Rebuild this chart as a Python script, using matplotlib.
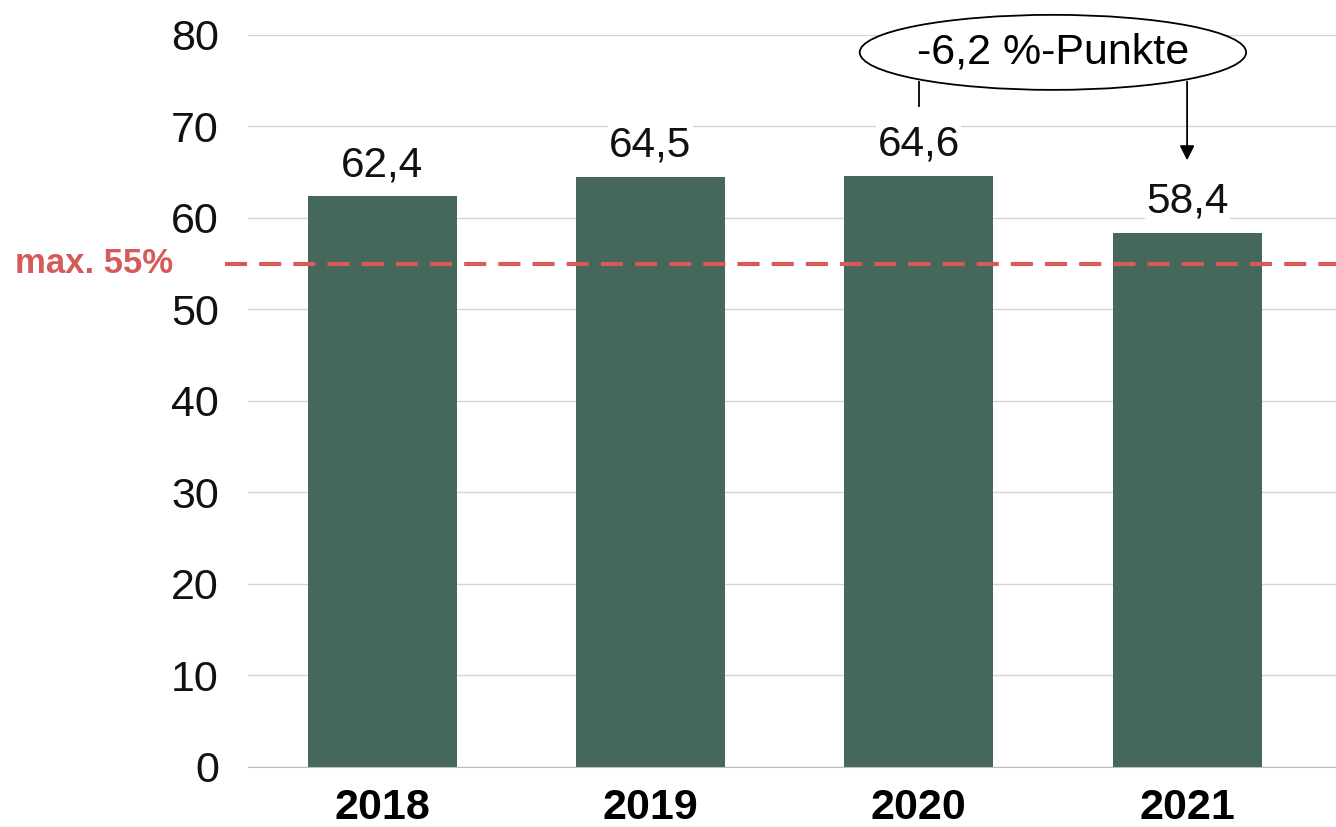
import matplotlib.pyplot as plt
from matplotlib.patches import Ellipse

years = ['2018', '2019', '2020', '2021']
values = [62.4, 64.5, 64.6, 58.4]
labels = ['62,4', '64,5', '64,6', '58,4']
limit = 55
limit_label = 'max. 55%'
diff_label = '-6,2 %-Punkte'

plt.rcParams['font.family'] = ['Liberation Sans', 'DejaVu Sans']

fig = plt.figure(figsize=(13.36, 8.27), dpi=100)
ax = fig.add_axes([0.1856, 0.0726, 0.8144, 0.8851])

x = range(len(years))
ax.bar(x, values, width=0.555, color='#45685a', zorder=2)

for i, v in enumerate(values):
    ax.text(i, v + 1.2, labels[i], ha='center', va='bottom', fontsize=30.5,
            color='#111111', zorder=4,
            bbox=dict(facecolor='white', edgecolor='none', pad=1))

ax.set_xlim(-0.5, 3.555)
ax.set_ylim(0, 80)
ax.set_yticks(range(0, 81, 10))
ax.set_xticks(list(x))
ax.set_xticklabels(years, fontsize=31, fontweight='bold')
ax.tick_params(axis='y', labelsize=31, length=0, pad=21)
ax.tick_params(axis='x', length=0, pad=15)
for t in ax.get_yticklabels():
    t.set_color('#111111')

ax.yaxis.grid(True, color='#d4d4d4', linewidth=1, zorder=0)
ax.set_axisbelow(True)
for s in ['top', 'right', 'left']:
    ax.spines[s].set_visible(False)
ax.spines['bottom'].set_color('#bbbbbb')
ax.spines['bottom'].set_zorder(3)

# limit line, runs a bit past the left edge of the axes
ax.plot([-0.585, 3.555], [limit, limit], color='#d65a5a', linewidth=3,
        dashes=(5.3, 2.9), clip_on=False, zorder=3)
ax.text(-0.78, limit, limit_label, ha='right', va='center', fontsize=25,
        fontweight='bold', color='#d65a5a', transform=ax.transData,
        clip_on=False)

# difference annotation
ell = Ellipse((2.5, 78.1), 1.44, 8.2, facecolor='white', edgecolor='black',
              linewidth=1.3, clip_on=False, zorder=5)
ax.add_patch(ell)
ax.text(2.5, 78.1, diff_label, ha='center', va='center', fontsize=31,
        color='black', zorder=6, clip_on=False)
ax.plot([2, 2], [74.9, 72.2], color='black', linewidth=1.3, zorder=5)
ax.annotate('', xy=(3, values[3] + 7.9), xytext=(3, 74.9),
            arrowprops=dict(arrowstyle='-|>', color='black', lw=1.3,
                            mutation_scale=22, shrinkA=0, shrinkB=0),
            zorder=5)

fig.savefig('out.png', dpi=100)
